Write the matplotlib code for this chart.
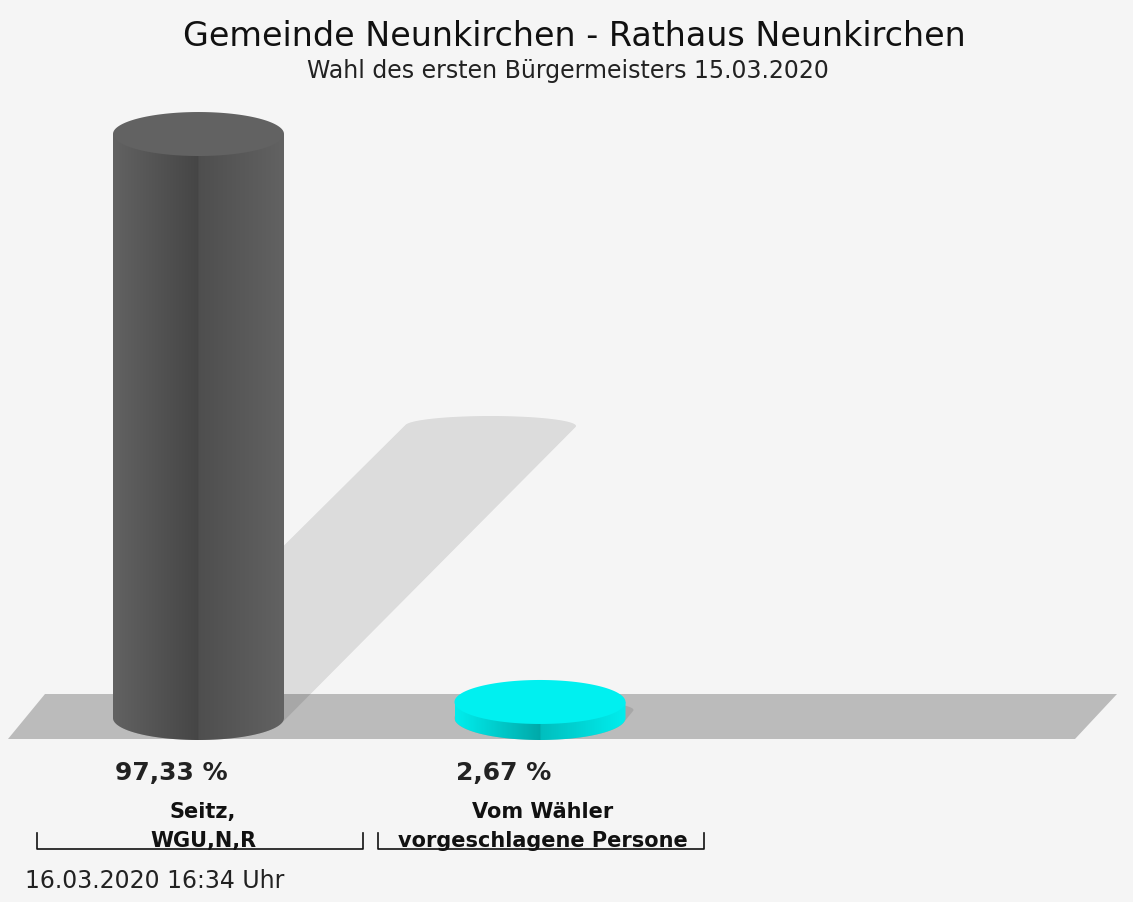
import numpy as np
import matplotlib
matplotlib.use("Agg")
import matplotlib.pyplot as plt
from matplotlib.patches import Polygon

# ---- data ----
categories = ["Seitz,\nWGU,N,R", "Vom Wähler\nvorgeschlagene Persone"]
values = [97.33, 2.67]
value_labels = ["97,33 %", "2,67 %"]
bar_colors = [(0x62, 0x62, 0x62), (0x00, 0xee, 0xee)]
top_colors = ["#626262", "#00f0f0"]
title = "Gemeinde Neunkirchen - Rathaus Neunkirchen"
subtitle = "Wahl des ersten Bürgermeisters 15.03.2020"
footer = "16.03.2020 16:34 Uhr"

# ---- layout ----
W, H = 1133, 903
BASE_PX = 719.0      # pixel row of the cylinder base centre
S = 6.0              # pixels per percent
RY_PX = 22.0
RX = 85.5
centers = [198.5, 540.0]
BG = "#f5f5f5"

fig = plt.figure(figsize=(W / 100, H / 100), dpi=100, facecolor=BG)
ax = fig.add_axes([0, 0, 1, 1])
ax.set_facecolor(BG)
ax.set_xlim(0, W)
ax.set_ylim(-(H - BASE_PX) / S, BASE_PX / S)
ax.axis("off")


def ypx(p):
    return (BASE_PX - p) / S


ry = RY_PX / S

# floor
floor = Polygon([(8, ypx(740)), (45, ypx(695)), (1117, ypx(695)), (1075, ypx(740))],
                closed=True, facecolor="#bbbbbb", edgecolor="none", zorder=1)
ax.add_patch(floor)


def hull(points):
    pts = sorted(set(map(tuple, points)))
    def cross(o, a, b):
        return (a[0] - o[0]) * (b[1] - o[1]) - (a[1] - o[1]) * (b[0] - o[0])
    lower, upper = [], []
    for p in pts:
        while len(lower) >= 2 and cross(lower[-2], lower[-1], p) <= 0:
            lower.pop()
        lower.append(p)
    for p in reversed(pts):
        while len(upper) >= 2 and cross(upper[-2], upper[-1], p) <= 0:
            upper.pop()
        upper.append(p)
    return lower[:-1] + upper[:-1]


th = np.linspace(0, 2 * np.pi, 200)

for cx, v, col, tcol in zip(centers, values, bar_colors, top_colors):
    h = v  # height in percent units
    # shadow (sheared silhouette)
    base_pts = np.column_stack([cx + RX * np.cos(th), ry * np.sin(th)])
    sh_dx = 0.5 * h * S
    sh_dy = 0.5 * h
    top_pts = np.column_stack([cx + sh_dx + RX * np.cos(th), sh_dy + (10.0 / S) * np.sin(th)])
    hp = hull(np.vstack([base_pts, top_pts]))
    ax.add_patch(Polygon(hp, closed=True, facecolor="black", alpha=0.1,
                         edgecolor="none", zorder=2))

    # side with gradient
    lower_t = np.linspace(np.pi, 2 * np.pi, 100)
    side = [(cx - RX, h)] + [(cx + RX * np.cos(t), ry * np.sin(t)) for t in lower_t] + [(cx + RX, h)]
    clip = Polygon(side, closed=True, transform=ax.transData)
    tt = np.linspace(-1, 1, 400)
    f = np.where(tt < 0, 1 - 0.29 * (1 + tt), 0.80 + 0.20 * tt)
    rgb = np.clip(np.outer(f, np.array(col) / 255.0), 0, 1)
    img = rgb[np.newaxis, :, :]
    im = ax.imshow(img, extent=[cx - RX, cx + RX, -ry, h], aspect="auto",
                   interpolation="bilinear", zorder=3)
    im.set_clip_path(clip)

    # top ellipse
    top = np.column_stack([cx + RX * np.cos(th), h + ry * np.sin(th)])
    ax.add_patch(Polygon(top, closed=True, facecolor=tcol, edgecolor="none", zorder=4))

ax.set_xlim(0, W)
ax.set_ylim(-(H - BASE_PX) / S, BASE_PX / S)


def ftxt(x, y, s, **kw):
    fig.text(x / W, 1 - y / H, s, **kw)


ftxt(574, 46, title, fontsize=24, ha="center", va="baseline", color="#111111")
ftxt(568, 78, subtitle, fontsize=17, ha="center", va="baseline", color="#222222")

label_x = [171.5, 504]
for lx, vl in zip(label_x, value_labels):
    ftxt(lx, 780, vl, fontsize=18, fontweight="bold", ha="center", va="baseline", color="#222222")

cat_x = [203, 543]
for cxl, cat in zip(cat_x, categories):
    l1, l2 = cat.split("\n")
    ftxt(cxl, 818, l1, fontsize=15, fontweight="bold", ha="center", va="baseline", color="#111111")
    ftxt(cxl, 847, l2, fontsize=15, fontweight="bold", ha="center", va="baseline", color="#111111")

# brackets under the category labels
brackets = [(37, 363), (378, 704)]
for x0, x1 in brackets:
    xs = [x0 / W, x0 / W, x1 / W, x1 / W]
    ys = [1 - 834 / H, 1 - 850 / H, 1 - 850 / H, 1 - 834 / H]
    fig.add_artist(plt.Line2D(xs, ys, color="#111111", lw=1.2, transform=fig.transFigure))

ftxt(25, 888, footer, fontsize=17, ha="left", va="baseline", color="#222222")

fig.savefig("out.png", dpi=100, facecolor=BG)
